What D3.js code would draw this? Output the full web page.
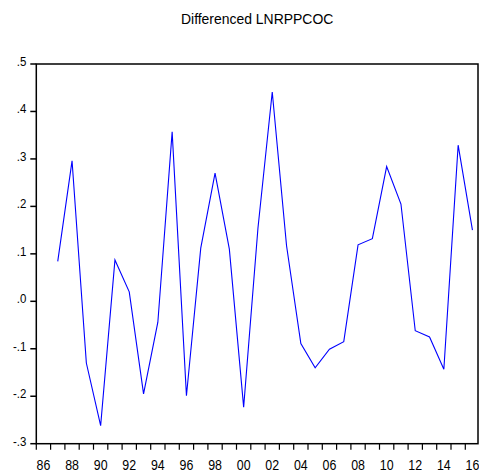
<!DOCTYPE html>
<html><head><meta charset="utf-8">
<script src="https://cdn.jsdelivr.net/npm/d3@7"></script>
<style>body{margin:0;background:#fff}svg{display:block}</style>
</head><body>
<script>
const years = [1987,1988,1989,1990,1991,1992,1993,1994,1995,1996,1997,1998,1999,2000,2001,2002,2003,2004,2005,2006,2007,2008,2009,2010,2011,2012,2013,2014,2015,2016];
const values = [0.084,0.296,-0.130,-0.262,0.087,0.020,-0.195,-0.044,0.357,-0.199,0.112,0.270,0.110,-0.223,0.154,0.441,0.117,-0.089,-0.140,-0.101,-0.085,0.119,0.132,0.284,0.205,-0.062,-0.075,-0.143,0.329,0.150];
const yTicks = [0.5,0.4,0.3,0.2,0.1,0.0,-0.1,-0.2,-0.3];
const yTickLabels = [".5",".4",".3",".2",".1",".0","-.1","-.2","-.3"];
const xLabelYears = [1986,1988,1990,1992,1994,1996,1998,2000,2002,2004,2006,2008,2010,2012,2014,2016];
const title = "Differenced LNRPPCOC";

const W = 479, H = 474;
const L = 36.3, R = 478, T = 64, B = 443.7;
const svg = d3.select("body").append("svg").attr("width", W).attr("height", H);
const x = d3.scaleLinear().domain([1986, 2017]).range([L, L + 14.3 * 31]);
const y = d3.scaleLinear().domain([-0.3, 0.5]).range([B, T]);
const font = "'Liberation Sans', Arial, sans-serif";

// title
svg.append("text").attr("text-anchor", "middle")
  .attr("transform", `translate(${(L + R) / 2},24) scale(0.9,1)`)
  .attr("font-family", font).attr("font-size", 15.5).attr("fill", "#000").text(title);

// frame
svg.append("rect").attr("x", L).attr("y", T).attr("width", R - L).attr("height", B - T)
  .attr("fill", "none").attr("stroke", "#000").attr("stroke-width", 1.5);

// y axis ticks & labels
const yg = svg.append("g");
yTicks.forEach((v, i) => {
  yg.append("line").attr("x1", L - 6).attr("x2", L).attr("y1", y(v)).attr("y2", y(v))
    .attr("stroke", "#000").attr("stroke-width", 1.5);
  yg.append("text").attr("text-anchor", "end")
    .attr("transform", `translate(${L - 10},${y(v) + 2}) scale(0.85,1)`)
    .attr("font-family", font).attr("font-size", 13.5).attr("fill", "#000").text(yTickLabels[i]);
});

// x axis ticks at year boundaries
const xg = svg.append("g");
d3.range(1986, 2018).forEach(yr => {
  xg.append("line").attr("x1", x(yr)).attr("x2", x(yr)).attr("y1", B).attr("y2", B + 6)
    .attr("stroke", "#000").attr("stroke-width", 1.2);
});
xLabelYears.forEach(yr => {
  xg.append("text").attr("text-anchor", "middle")
    .attr("transform", `translate(${x(yr + 0.5)},${470}) scale(0.8,1)`)
    .attr("font-family", font).attr("font-size", 15.5).attr("fill", "#000")
    .text(String(yr % 100).padStart(2, "0"));
});

// line
const data = years.map((yr, i) => ({ yr, v: values[i] }));
svg.append("path").datum(data)
  .attr("d", d3.line().x(d => x(d.yr + 0.5)).y(d => y(d.v)))
  .attr("fill", "none").attr("stroke", "#0000ff").attr("stroke-width", 1.1);
</script>
</body></html>
